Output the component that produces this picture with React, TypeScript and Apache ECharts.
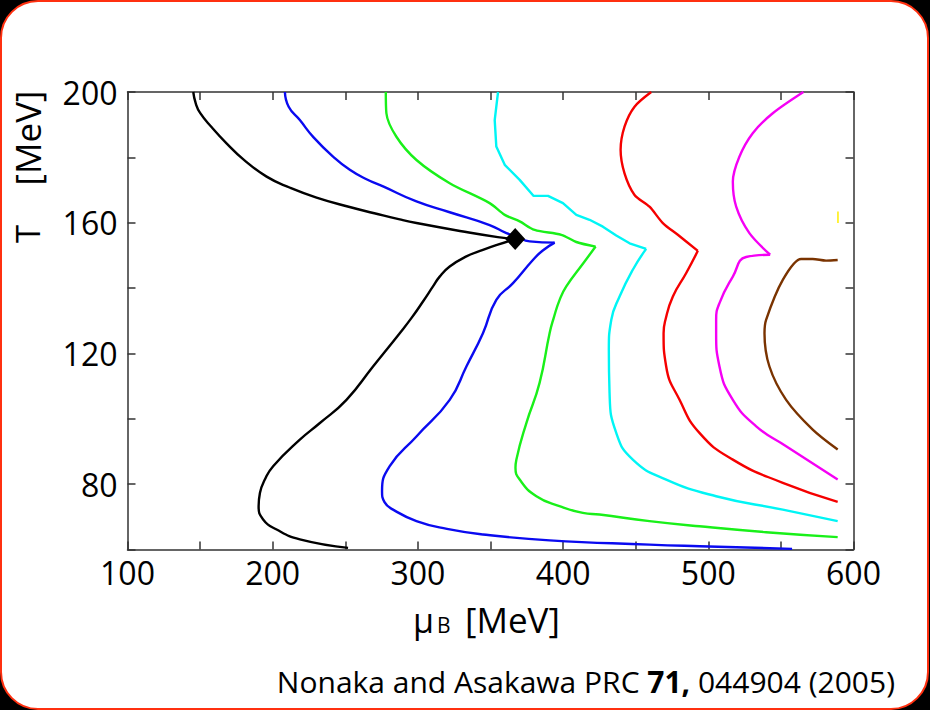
import React, { useEffect, useRef } from "react";
import * as echarts from "echarts";

// [muB (MeV), T (MeV)] points
const blackUpper = [[145.3,200],[147,196.5],[150,193.6],[158,189.2],[168.2,184.3],[180,179.3],[195.8,174.1],[212,170.7],[230.2,167.7],[253,164.8],[270,162.9],[287.5,161],[299,159.9],[330,157.4],[355,155.6],[367,155]];
const blackLower = [[367,155],[355,153.3],[344.8,151.7],[333.4,149.7],[321.9,146.6],[315,143.5],[310.4,140.5],[303.5,135.9],[295.5,130.8],[287.5,126.2],[269.1,116],[250.8,105.8],[232.5,98.7],[218.7,93.6],[200.3,85.5],[194.6,81.4],[191.2,77.3],[190.3,73.2],[193.4,69.2],[202.7,66.1],[218.7,63.1],[251.9,60.5]];
const blueUpper = [[208.4,200],[211,195.5],[218.7,191.4],[228,186.2],[241.6,180.2],[253.1,176.2],[264.6,173.3],[276,171.1],[299,166.5],[321.9,163.2],[349.4,159.3],[361,156.8],[367.8,155.8],[377,154.3],[394.2,153.9]];
const blueLower = [[394.2,153.9],[386,151.5],[379.2,148.6],[365.5,141.5],[354,136.4],[344.8,126.2],[333.4,116],[321.9,105.8],[299,94.6],[280.6,85.5],[275.3,77.8],[277,74.5],[282.9,72.2],[299,68.7],[320,66.3],[344.8,64.6],[390.7,62.8],[459.5,61.5],[494,61],[557.7,60.2]];
const greenUpper = [[277.9,200],[278.3,193.5],[285.2,186.3],[299,179.2],[321.9,172.1],[349.4,166],[359.8,162.4],[370.1,160.4],[380.4,157.8],[398.8,156.3],[409.1,154.1],[422.4,152.7]];
const greenLower = [[422.4,152.7],[413.9,147.6],[402.2,140.5],[397.6,136.4],[393.5,130.8],[390.7,126.2],[383.8,111],[374.7,98.7],[367.8,87.5],[367.2,85],[370.1,81.4],[381.6,76.3],[398,73.2],[413.6,71.2],[425.1,70.7],[459.5,68.7],[493.9,67.1],[539.8,65.3],[589.1,63.8]];
const cyanUpper = [[355.2,200],[352.9,191.4],[354,183.3],[359.8,177.7],[370.1,173.1],[379.7,168.2],[389.6,168.2],[399.9,166],[409.1,162.4],[418.2,160.9],[427.4,158.8],[436.6,156.1],[445.8,153.7],[457.2,152]];
const cyanLower = [[457.2,152],[448,145.6],[438.9,137.4],[433.2,130.3],[431.5,121.1],[432,107.9],[436.6,95.7],[448,87.5],[471,81.4],[505.4,76.3],[551.3,72.2],[589.1,68.7]];
const redUpper = [[460.7,200],[449.2,195.5],[442.3,189.4],[439.6,182.3],[442.3,175.1],[449.2,168.5],[459.5,164.9],[468.7,159.9],[479,156.3],[492.8,151.4]];
const redLower = [[492.8,151.4],[484.8,144.6],[475.6,137.4],[470.5,130.3],[469.2,126.2],[471,116],[480.2,105.8],[493.9,95.7],[516.9,87.5],[551.3,80.4],[589.1,74.6]];
const magentaUpper = [[565.5,200],[544.4,193.5],[530.6,187.4],[521.4,180.2],[516.9,172.6],[519.2,164.9],[528.3,156.8],[542.6,150.2]];
const magentaLower = [[542.6,150.2],[526,149.5],[516.9,143.5],[507.7,135.4],[505.4,130.3],[505.4,126.2],[507.7,116],[516.9,105.8],[533,97.7],[553.6,91.6],[589.1,81.4]];
const brownCurve = [[589.1,148.6],[581.1,148.4],[571.9,148.9],[563.9,148.9],[551.3,142.5],[539.8,130.3],[538.7,126.2],[542.1,116],[553.6,105.8],[571.9,96.7],[589.1,90.6]];
const yellowMark = [[589.3,163.4],[589.3,159.9]];
const criticalPoint = [[367,155]];

const xRange = [100, 600];
const yRange = [60, 200];

const FONT = "'Open Sans', 'Noto Sans', sans-serif";
const AXIS_COLOR = "#333";

function line(name: string, data: number[][], color: string, smooth: number | boolean, width = 2.4) {
  return {
    name,
    type: "line",
    data,
    smooth,
    symbol: "none",
    showSymbol: false,
    lineStyle: { color, width },
    z: 3,
  };
}

export default function App() {
  const ref = useRef<HTMLDivElement>(null);
  useEffect(() => {
    if (!ref.current) return;
    const chart = echarts.init(ref.current, undefined, { renderer: "svg" });
    const axisCommon = {
      type: "value" as const,
      axisLine: { show: true, onZero: false, lineStyle: { color: AXIS_COLOR, width: 1.5 } },
      axisTick: { show: true, inside: true, length: 8, lineStyle: { color: AXIS_COLOR, width: 1.5 } },
      splitLine: { show: false },
    };
    chart.setOption({
      animation: false,
      backgroundColor: "transparent",
      grid: { left: 127.5, right: 76.5, top: 92, bottom: 160.5, containLabel: false },
      xAxis: [
        {
          ...axisCommon,
          position: "bottom",
          min: xRange[0], max: xRange[1], interval: 50,
          axisLabel: {
            show: true, fontSize: 32, color: "#000", fontFamily: FONT, margin: 7,
            formatter: (v: number) => (v % 100 === 0 ? String(v) : ""),
          },
        },
        {
          ...axisCommon,
          position: "top",
          min: xRange[0], max: xRange[1], interval: 50,
          axisLabel: { show: false },
        },
      ],
      yAxis: [
        {
          ...axisCommon,
          position: "left",
          min: yRange[0], max: yRange[1], interval: 20,
          axisLabel: {
            show: true, fontSize: 32, color: "#000", fontFamily: FONT, margin: 10,
            formatter: (v: number) => (v % 40 === 0 ? String(v) : ""),
          },
        },
        {
          ...axisCommon,
          position: "right",
          min: yRange[0], max: yRange[1], interval: 20,
          axisLabel: { show: false },
        },
      ],
      series: [
        line("black-upper", blackUpper, "#000000", 0.5),
        line("black-lower", blackLower, "#000000", 0.5),
        line("blue-upper", blueUpper, "#0a0af0", 0.5),
        line("blue-lower", blueLower, "#0a0af0", 0.5),
        line("green-upper", greenUpper, "#19f019", 0.3),
        line("green-lower", greenLower, "#19f019", 0.5),
        line("cyan-upper", cyanUpper, "#00f5f5", false),
        line("cyan-lower", cyanLower, "#00f5f5", 0.5),
        line("red-upper", redUpper, "#f50000", 0.3),
        line("red-lower", redLower, "#f50000", 0.5),
        line("magenta-upper", magentaUpper, "#f500f5", 0.3),
        line("magenta-lower", magentaLower, "#f500f5", 0.5),
        line("brown", brownCurve, "#7a3300", 0.3),
        line("yellow", yellowMark, "#ffee00", false, 1.5),
        {
          name: "critical point",
          type: "scatter",
          data: criticalPoint,
          symbol: "diamond",
          symbolSize: [20, 22],
          itemStyle: { color: "#000", opacity: 1 },
          z: 5,
        },
      ],
      graphic: [
        {
          type: "text", x: 27, y: 234, rotation: Math.PI / 2,
          style: { text: "T", fontSize: 33, fontFamily: FONT, fill: "#000", align: "center", verticalAlign: "middle" },
        },
        {
          type: "text", x: 27, y: 138, rotation: Math.PI / 2,
          style: { text: "[MeV]", fontSize: 35, fontFamily: FONT, fill: "#000", align: "center", verticalAlign: "middle" },
        },
        {
          type: "text", x: 413, y: 620,
          style: { text: "μ", fontSize: 34, fontFamily: FONT, fill: "#000", align: "left", verticalAlign: "middle" },
        },
        {
          type: "text", x: 437, y: 625,
          style: { text: "B", fontSize: 21, fontFamily: FONT, fill: "#000", align: "left", verticalAlign: "middle" },
        },
        {
          type: "text", x: 465, y: 619,
          style: { text: "[MeV]", fontSize: 35, fontFamily: FONT, fill: "#000", align: "left", verticalAlign: "middle" },
        },
        {
          type: "text", x: 895, y: 681,
          style: {
            text: "{n|Nonaka and Asakawa PRC }{b|71,}{n| 044904 (2005)}",
            align: "right", verticalAlign: "middle",
            rich: {
              n: { fontSize: 30, fontFamily: FONT, fill: "#000", color: "#000" },
              b: { fontSize: 30, fontFamily: FONT, fontWeight: "bold", fill: "#000", color: "#000" },
            },
          },
        },
      ],
    });
    return () => chart.dispose();
  }, []);

  return (
    <div style={{ position: "absolute", left: 0, top: 0, width: 930, height: 710, background: "#000" }}>
      <div
        style={{
          position: "absolute", left: 0, top: 0, width: 929, height: 710, boxSizing: "border-box",
          background: "#fff", border: "2px solid #ff3010", borderRadius: 38,
        }}
      />
      <div ref={ref} style={{ position: "absolute", left: 0, top: 0, width: 930, height: 710 }} />
    </div>
  );
}
